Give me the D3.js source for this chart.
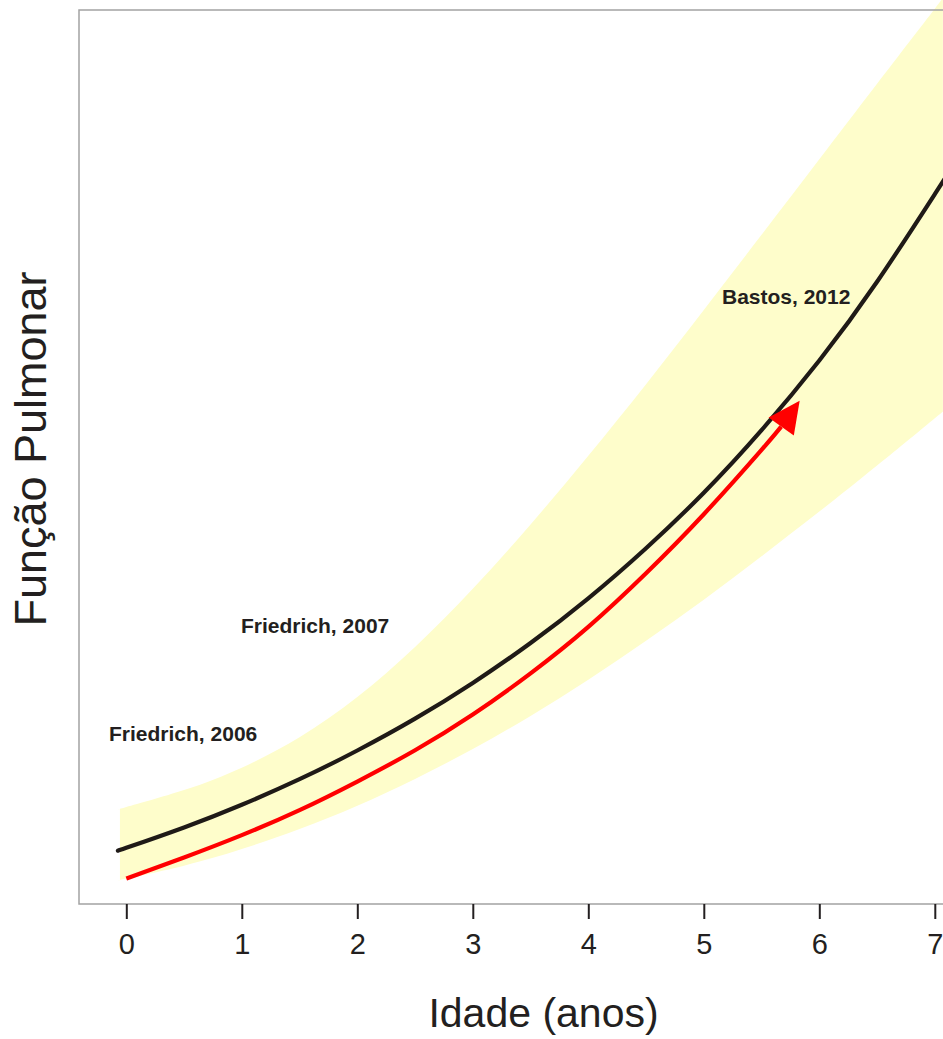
<!DOCTYPE html>
<html>
<head>
<meta charset="utf-8">
<script src="https://cdn.jsdelivr.net/npm/d3@7"></script>
<style>
  body { margin: 0; background: #fff; }
  svg { display: block; font-family: Arial, "Liberation Sans", sans-serif; }
</style>
</head>
<body>
<svg id="chart" width="943" height="1039"></svg>
<script>
// Idade (anos) sampled along the curves
const ages = [-0.055, 0, 0.5, 1, 1.5, 2, 2.5, 3, 3.5, 4, 4.5, 5, 5.5, 6, 6.5, 7, 7.07];
// reference curve (black) and the band around it, arbitrary units
const reference = [6.04, 6.28, 8.56, 11.1, 13.96, 17.17, 20.73, 24.73, 29.2, 34.2, 39.8, 46.0, 53.0, 60.8, 69.6, 79.4, 80.8];
const bandUpper = [10.63, 10.85, 12.75, 15.25, 18.65, 23.15, 28.75, 35.25, 42.45, 50.15, 58.15, 66.45, 74.85, 83.3, 91.75, 100.15, 101.3];
const bandLower = [2.68, 2.84, 4.29, 6.14, 8.39, 10.99, 13.99, 17.34, 21.04, 25.09, 29.44, 34.04, 38.89, 43.89, 49.04, 54.34, 55.1];

// red arrow (catch-up growth)
const redAges = [0, 0.5, 1, 1.5, 2, 2.5, 3, 3.5, 4, 4.5, 5, 5.5, 5.67];
const redValues = [2.85, 5.2, 7.7, 10.5, 13.7, 17.2, 21.2, 25.8, 31.0, 37.0, 43.6, 50.8, 53.4];
const arrowTip = [5.83, 56.3];

const xTicks = [0, 1, 2, 3, 4, 5, 6, 7];
const labels = ["Friedrich, 2006", "Friedrich, 2007", "Bastos, 2012"];

// layout
const frame = { left: 79, top: 10, bottom: 904, right: 946 };
const labelPos = [[109, 741], [241, 633], [722, 304]];
const ink = "#231f20";

const svg = d3.select("#chart");

const x = d3.scaleLinear().domain([0, 7]).range([126.3, 934.8]);
const y = d3.scaleLinear().domain([0, 100]).range([frame.bottom, frame.top]);

const bandData = ages.map((a, i) => ({ a, lo: bandLower[i], hi: bandUpper[i] }));
const refData = ages.map((a, i) => ({ a, v: reference[i] }));
const redData = redAges.map((a, i) => ({ a, v: redValues[i] }));

// band
svg.append("path")
    .datum(bandData)
    .attr("fill", "#fefdcb")
    .attr("d", d3.area()
        .x(d => x(d.a))
        .y0(d => y(d.lo))
        .y1(d => y(d.hi))
        .curve(d3.curveNatural));

const line = d3.line()
    .x(d => x(d.a))
    .y(d => y(d.v))
    .curve(d3.curveNatural);

// black curve
svg.append("path")
    .datum(refData)
    .attr("fill", "none")
    .attr("stroke", "#1f1a17")
    .attr("stroke-width", 4.2)
    .attr("d", line);

// red curve
svg.append("path")
    .datum(redData)
    .attr("fill", "none")
    .attr("stroke", "#ff0000")
    .attr("stroke-width", 4.2)
    .attr("d", line);

// arrow head, from last red point to the tip
const last = redData[redData.length - 1];
const bx = x(last.a), by = y(last.v);
const tx = x(arrowTip[0]), ty = y(arrowTip[1]);
const len = Math.hypot(tx - bx, ty - by);
const ux = (tx - bx) / len, uy = (ty - by) / len;
const half = 15.5;
svg.append("path")
    .attr("fill", "#ff0000")
    .attr("d", `M${tx},${ty}L${bx - uy * half},${by + ux * half}L${bx + uy * half},${by - ux * half}Z`);

// frame (left, top, bottom)
svg.append("path")
    .attr("fill", "none")
    .attr("stroke", "#a3a3a3")
    .attr("stroke-width", 1.5)
    .attr("d", `M${frame.right},${frame.top}H${frame.left}V${frame.bottom}H${frame.right}`);

// x axis ticks
const xAxis = svg.append("g")
    .attr("transform", `translate(0,${frame.bottom})`)
    .call(d3.axisBottom(x).tickValues(xTicks).tickSize(15).tickFormat(d3.format("d")));
xAxis.select(".domain").remove();
xAxis.selectAll(".tick line").attr("stroke", ink).attr("stroke-width", 2);
xAxis.selectAll(".tick text")
    .attr("fill", ink)
    .attr("font-size", 29)
    .attr("font-family", "Arial, 'Liberation Sans', sans-serif")
    .attr("y", 50)
    .attr("dy", 0);

// axis titles
svg.append("text")
    .attr("x", 543.5)
    .attr("y", 1027)
    .attr("text-anchor", "middle")
    .attr("font-size", 41)
    .attr("fill", ink)
    .text("Idade (anos)");

svg.append("text")
    .attr("transform", "translate(46,449) rotate(-90)")
    .attr("text-anchor", "middle")
    .attr("font-size", 45)
    .attr("fill", ink)
    .text("Função Pulmonar");

// study labels
svg.selectAll(".study")
    .data(labels)
    .enter().append("text")
    .attr("class", "study")
    .attr("x", (d, i) => labelPos[i][0])
    .attr("y", (d, i) => labelPos[i][1])
    .attr("font-size", 21)
    .attr("font-weight", "bold")
    .attr("fill", ink)
    .text(d => d);
</script>
</body>
</html>
